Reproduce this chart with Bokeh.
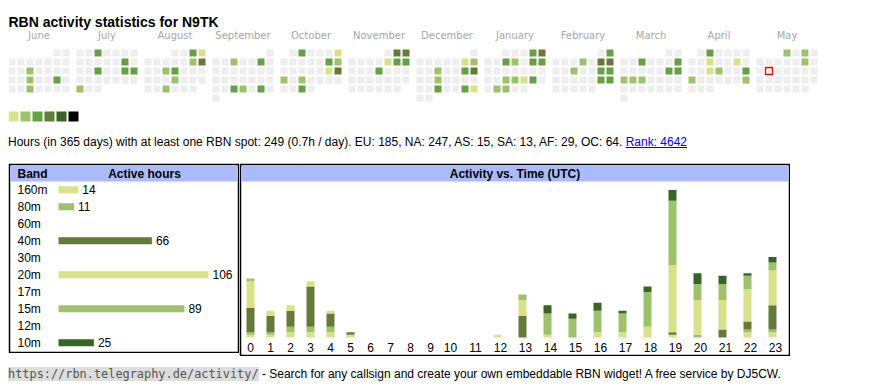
import datetime as dt
from bokeh.plotting import figure
from bokeh.layouts import column, row
from bokeh.models import Div, Range1d, ColumnDataSource
from bokeh.embed import file_html
from bokeh.resources import INLINE
from bokeh.core.properties import value

# ---------------- data ----------------
callsign = "N9TK"
month_names = ["June", "July", "August", "September", "October", "November",
               "December", "January", "February", "March", "April", "May"]
month_years = [2024, 2024, 2024, 2024, 2024, 2024, 2024, 2025, 2025, 2025, 2025, 2025]
month_numbers = [6, 7, 8, 9, 10, 11, 12, 1, 2, 3, 4, 5]
today = "2025-05-13"

active_dates = [
    "2024-06-12", "2024-06-19", "2024-06-22", "2024-06-26",
    "2024-07-03", "2024-07-13", "2024-07-17", "2024-07-20", "2024-07-21", "2024-07-29",
    "2024-08-03", "2024-08-04", "2024-08-10", "2024-08-11", "2024-08-14", "2024-08-15",
    "2024-08-22", "2024-08-28",
    "2024-09-04", "2024-09-07", "2024-09-25", "2024-09-26", "2024-09-28",
    "2024-10-02", "2024-10-06", "2024-10-12", "2024-10-13", "2024-10-19", "2024-10-20",
    "2024-10-21", "2024-10-23", "2024-10-30",
    "2024-11-02", "2024-11-03", "2024-11-08", "2024-11-09", "2024-11-10", "2024-11-14",
    "2024-12-07", "2024-12-08", "2024-12-11", "2024-12-14", "2024-12-15", "2024-12-18",
    "2024-12-25", "2024-12-28", "2024-12-29",
    "2025-01-04", "2025-01-05", "2025-01-08", "2025-01-09", "2025-01-11", "2025-01-12",
    "2025-01-22", "2025-01-23", "2025-01-24", "2025-01-25", "2025-01-28", "2025-01-29",
    "2025-02-02", "2025-02-06", "2025-02-08", "2025-02-09", "2025-02-12", "2025-02-15",
    "2025-02-16", "2025-02-22", "2025-02-23",
    "2025-03-05", "2025-03-09", "2025-03-15", "2025-03-16", "2025-03-17", "2025-03-18",
    "2025-03-19",
    "2025-04-02", "2025-04-09", "2025-04-12", "2025-04-16", "2025-04-17", "2025-04-20",
    "2025-04-21", "2025-04-27",
    "2025-05-01", "2025-05-03", "2025-05-10",
]
active_levels = [
    2, 2, 3, 2,
    3, 3, 3, 3, 3, 2,
    3, 1, 2, 4, 2, 3,
    2, 2,
    2, 3, 3, 2, 3,
    3, 1, 3, 2, 1, 4,
    2, 2, 3,
    4, 4, 1, 3, 3, 3,
    1, 2, 2, 3, 4, 2,
    3, 3, 1,
    3, 4, 3, 2, 3, 3,
    2, 2, 1, 3, 2, 2,
    3, 2, 4, 4, 2, 3,
    3, 3, 3,
    3, 3, 3, 3, 2, 2,
    2,
    3, 1, 1, 1, 2, 3,
    2, 2,
    2, 2, 2,
]

palette = ["#dae18b", "#9ec26c", "#66a046", "#637a3a", "#3a6426", "#000000"]
empty_color = "#eeeeee"

bands = ["160m", "80m", "60m", "40m", "30m", "20m", "17m", "15m", "12m", "10m"]
band_hours = [14, 11, 0, 66, 0, 106, 0, 89, 0, 25]
band_colors = ["#dae18b", "#9ec26c", "#66a046", "#637a3a", "#3a6426",
               "#dae18b", "#9ec26c", "#9ec26c", "#66a046", "#3a6426"]

hours = list(range(24))
hourly_160m = [1, 1, 2, 2, 2, 1, 0, 0, 0, 0, 0, 0, 0, 0, 0, 0, 0, 0, 0, 1, 0, 0, 2, 2]
hourly_80m = [1, 1, 2, 2, 2, 0, 0, 0, 0, 0, 0, 0, 0, 0, 0, 0, 0, 0, 0, 0, 1, 0, 1, 1]
hourly_40m = [9, 6, 6, 15, 5, 1, 0, 0, 0, 0, 0, 0, 0, 8, 0, 0, 0, 0, 0, 1, 0, 3, 3, 9]
hourly_20m = [10, 2, 2, 2, 1, 0, 0, 0, 0, 0, 0, 0, 1, 6, 1, 0, 2, 2, 4, 25, 13, 11, 12, 13]
hourly_15m = [1, 0, 0, 0, 0, 0, 0, 0, 0, 0, 0, 0, 0, 2, 8, 7, 8, 7, 13, 24, 6, 6, 5, 3]
hourly_10m = [0, 0, 0, 0, 0, 0, 0, 0, 0, 0, 0, 0, 0, 0, 3, 2, 3, 1, 2, 4, 4, 3, 1, 2]

info_text = ("Hours (in 365 days) with at least one RBN spot: 249 (0.7h / day). "
             "EU: 185, NA: 247, AS: 15, SA: 13, AF: 29, OC: 64.")
rank_text = "Rank: 4642"
footer_url = "https://rbn.telegraphy.de/activity/"
footer_text = " - Search for any callsign and create your own embeddable RBN widget! A free service by DJ5CW."

# ---------------- style ----------------
SANS = "Liberation Sans"
HEAD_BLUE = "#aabbff"


def clean(p):
    p.grid.visible = False
    p.toolbar.logo = None


# ---------------- top: title + calendar + legend ----------------
TOP_W, TOP_H = 854, 122
top = figure(width=TOP_W, height=TOP_H, x_range=Range1d(8, 8 + TOP_W),
             y_range=Range1d(8 + TOP_H, 8), output_backend="svg",
             toolbar_location=None, x_axis_type=None, y_axis_type=None,
             min_border=0, outline_line_color=None)
clean(top)

CELL, PITCH, MONTH_W, CAL_LEFT, CAL_TOP = 7, 9, 68, 8, 49
level_of = dict(zip(active_dates, active_levels))
cx, cy, cc = [], [], []
tx, ty = [], []
mx, my = [], []
for m, (yr, mo) in enumerate(zip(month_years, month_numbers)):
    first = dt.date(yr, mo, 1)
    nxt = dt.date(yr + (1 if mo == 12 else 0), mo % 12 + 1, 1)
    off = first.weekday()
    for d in range((nxt - first).days):
        day = first + dt.timedelta(days=d)
        x = CAL_LEFT + MONTH_W * m + PITCH * day.weekday() + CELL / 2
        y = CAL_TOP + PITCH * ((d + off) // 7) + CELL / 2
        lvl = level_of.get(day.isoformat(), 0)
        cx.append(x)
        cy.append(y)
        cc.append(palette[lvl - 1] if lvl else empty_color)
        if day.isoformat() == today:
            tx.append(x)
            ty.append(y)
    mx.append(CAL_LEFT + MONTH_W * m + (7 * PITCH - 2) / 2)
    my.append(35)

top.rect(x=cx, y=cy, width=CELL, height=CELL, fill_color=cc, line_color=None)
top.rect(x=tx, y=ty, width=CELL, height=CELL, fill_color=None, line_color="#ee0000", line_width=1.3)
top.text(x=mx, y=my, text=month_names, text_font=value("DejaVu Sans"), text_font_size="10px",
         text_color="#a6a6a6", text_align="center", text_baseline="middle")
top.text(x=[8], y=[21], text=["RBN activity statistics for " + callsign], text_font=value(SANS),
         text_font_size="14px", text_font_style="bold", text_color="#000000",
         text_align="left", text_baseline="alphabetic")
top.rect(x=[8 + 12 * k + 5 for k in range(len(palette))], y=[116] * len(palette),
         width=10, height=10, fill_color=palette, line_color=None)

info = Div(text=(f'<div style="font-family:\'{SANS}\',Arial,sans-serif;font-size:12px;'
                 f'line-height:14px;padding-top:5px;color:#000;white-space:nowrap">'
                 f'{info_text} <a href="#" style="color:#0000ee;text-decoration:underline">'
                 f'{rank_text}</a></div>'),
           width=TOP_W, height=33, margin=(0, 0, 0, 0))

# ---------------- band table ----------------
B_W, B_H = 231, 190
B_FW, B_FH = B_W - 4, B_H - 4
B_PX = 1.415          # px per active hour
BAR_OFF = 48          # bar start, px from frame left
ROW, FIRST_ROW, HEAD = 17, 24.3, 16
bxs = -BAR_OFF / B_PX
bxe = bxs + B_FW / B_PX
by_top = -FIRST_ROW / ROW
by_bot = (B_FH - FIRST_ROW) / ROW
band_fig = figure(width=B_W, height=B_H, x_range=Range1d(bxs, bxe),
                  y_range=Range1d(by_bot, by_top), output_backend="svg",
                  toolbar_location=None, x_axis_type=None, y_axis_type=None,
                  min_border=2, border_fill_color="#000000",
                  background_fill_color="#ffffff", outline_line_color=None)
clean(band_fig)
band_fig.quad(left=[bxs], right=[bxe], top=[by_top], bottom=[(HEAD - FIRST_ROW) / ROW],
              fill_color=HEAD_BLUE, line_color=None)
head_y = (HEAD / 2 - FIRST_ROW) / ROW
band_fig.text(x=[bxs + 7 / B_PX], y=[head_y], text=["Band"], text_font=value(SANS),
              text_font_size="12px", text_font_style="bold", text_align="left",
              text_baseline="middle", text_color="#000000")
band_fig.text(x=[bxs + 134 / B_PX], y=[head_y], text=["Active hours"], text_font=value(SANS),
              text_font_size="12px", text_font_style="bold", text_align="center",
              text_baseline="middle", text_color="#000000")
idx = list(range(len(bands)))
band_fig.text(x=[bxs + 7 / B_PX] * len(bands), y=idx, text=bands, text_font=value(SANS),
              text_font_size="12px", text_align="left", text_baseline="middle",
              text_color="#000000")
nz = [i for i in idx if band_hours[i] > 0]
band_fig.hbar(y=nz, left=0, right=[band_hours[i] for i in nz], height=7 / ROW,
              fill_color=[band_colors[i] for i in nz], line_color=None)
band_fig.text(x=[band_hours[i] + 4 / B_PX for i in nz], y=nz,
              text=[str(band_hours[i]) for i in nz], text_font=value(SANS),
              text_font_size="12px", text_align="left", text_baseline="middle",
              text_color="#000000")

# ---------------- activity vs time ----------------
A_W, A_H = 551, 193
A_LEFT, A_RIGHT, A_TOP, A_BOTTOM, BASE = 241, 788, 165, 354, 337
U = 2.68              # px per hour-count
a_y0 = -(A_BOTTOM - BASE) / U
a_y1 = (BASE - A_TOP) / U
act = figure(width=A_W, height=A_H, x_range=Range1d(A_LEFT, A_RIGHT),
             y_range=Range1d(a_y0, a_y1), output_backend="svg",
             toolbar_location=None, x_axis_type=None, y_axis_type=None,
             min_border=2, border_fill_color="#000000",
             background_fill_color="#ffffff", outline_line_color=None)
clean(act)
act.quad(left=[A_LEFT], right=[A_RIGHT], top=[a_y1], bottom=[a_y1 - HEAD / U],
         fill_color=HEAD_BLUE, line_color=None)
act.text(x=[(A_LEFT + A_RIGHT) / 2], y=[a_y1 - HEAD / 2 / U], text=["Activity vs. Time (UTC)"],
         text_font=value(SANS), text_font_size="12px", text_font_style="bold",
         text_align="center", text_baseline="middle", text_color="#000000")

# table-like column layout: narrow columns for one-digit hours, wider for two digits
cell_left, lab_x, bar_x = A_LEFT - 1, [], []
for h in hours:
    w = 20 if h < 10 else 25
    lab_x.append(cell_left + 10)
    bar_x.append(cell_left + (10 if h < 10 else 7))
    cell_left += w

stack_names = ["160m", "80m", "40m", "20m", "15m", "10m"]
stack_vals = [hourly_160m, hourly_80m, hourly_40m, hourly_20m, hourly_15m, hourly_10m]
stack_cols = [band_colors[bands.index(b)] for b in stack_names]
src = ColumnDataSource(dict(x=bar_x, **{b: v for b, v in zip(stack_names, stack_vals)}))
act.vbar_stack(stack_names, x="x", width=8, color=stack_cols, line_color=None, source=src)
act.text(x=lab_x, y=[-(346.5 - BASE) / U] * 24, text=[str(h) for h in hours],
         text_font=value(SANS), text_font_size="12px", text_align="center",
         text_baseline="middle", text_color="#000000")

footer = Div(text=(f'<div style="font-family:\'{SANS}\',Arial,sans-serif;font-size:12px;'
                   f'line-height:14px;padding-top:11px;color:#000;white-space:nowrap">'
                   f'<span style="font-family:\'DejaVu Sans Mono\',monospace;font-size:11.9px;'
                   f'background:#dddddd;color:#555555">{footer_url}</span>{footer_text}</div>'),
             width=TOP_W, height=26, margin=(0, 0, 0, 0))

layout = column(top, info, row(band_fig, act, spacing=0), footer, spacing=0,
                margin=(8, 0, 0, 8))
open("out.html", "w").write(file_html(layout, INLINE))
